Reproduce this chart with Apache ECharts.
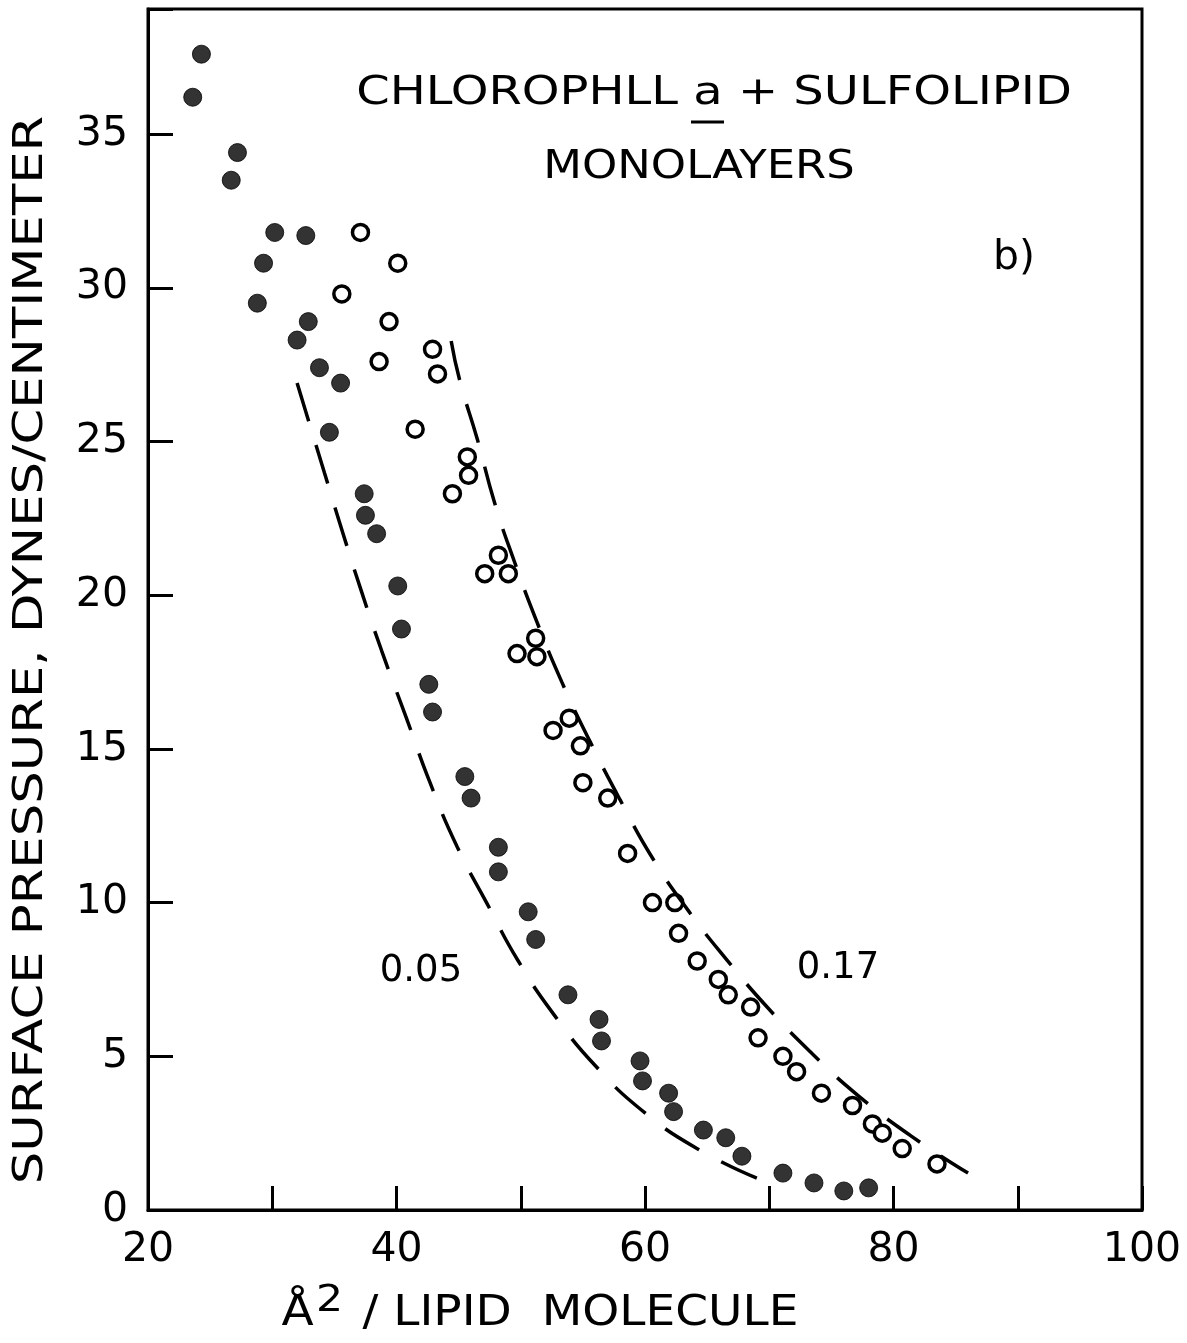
<!DOCTYPE html>
<html>
<head>
<meta charset="utf-8">
<script src="https://cdn.jsdelivr.net/npm/echarts@6/dist/echarts.min.js"></script>
<style>
  html, body { margin: 0; padding: 0; background: #fff; }
  #chart { width: 1187px; height: 1343px; }
</style>
</head>
<body>
<div id="chart"></div>
<script>
// filled circles, 0.05 sulfolipid fraction  [area Å², pressure dyn/cm]
const filled005 = [
  [24.3, 37.6], [23.6, 36.2], [27.2, 34.4], [26.7, 33.5], [30.2, 31.8], [32.7, 31.7],
  [29.3, 30.8], [28.8, 29.5], [32.9, 28.9], [32.0, 28.3], [33.8, 27.4], [35.5, 26.9],
  [34.6, 25.3], [37.4, 23.3], [37.5, 22.6], [38.4, 22.0], [40.1, 20.3], [40.4, 18.9],
  [42.6, 17.1], [42.9, 16.2], [45.5, 14.1], [46.0, 13.4], [48.2, 11.8], [48.2, 11.0],
  [50.6, 9.7], [51.2, 8.8], [53.8, 7.0], [56.3, 6.2], [56.5, 5.5], [59.6, 4.85],
  [59.8, 4.2], [61.9, 3.8], [62.3, 3.2], [64.7, 2.6], [66.5, 2.35], [67.8, 1.75],
  [71.1, 1.2], [73.6, 0.88], [76.0, 0.62], [78.0, 0.72]
]
// open circles, 0.17
const open017 = [
  [37.1, 31.8], [40.1, 30.8], [35.6, 29.8], [39.4, 28.9], [38.6, 27.6], [42.9, 28.0],
  [43.3, 27.2], [41.5, 25.4], [45.7, 24.5], [45.8, 23.9], [44.5, 23.3], [48.2, 21.3],
  [47.1, 20.7], [49.0, 20.7], [51.2, 18.6], [49.7, 18.1], [51.3, 18.0], [52.6, 15.6],
  [53.9, 16.0], [54.8, 15.1], [55.0, 13.9], [57.0, 13.4], [58.6, 11.6], [60.6, 10.0],
  [62.4, 10.0], [62.7, 9.0], [64.2, 8.1], [65.9, 7.5], [66.7, 7.0], [68.5, 6.6],
  [69.1, 5.6], [71.1, 5.0], [72.2, 4.5], [74.2, 3.8], [76.7, 3.4], [78.3, 2.8],
  [79.1, 2.5], [80.7, 2.0], [83.5, 1.5]
]
// dashed curves drawn through the data
const curve005 = [
  [32.0, 26.9], [34.2, 23.98], [35.7, 22.0], [37.2, 20.1], [38.8, 18.2], [40.8, 16.0],
  [42.7, 13.9], [44.9, 11.8], [47.3, 9.96], [49.8, 8.1], [52.7, 6.34], [56.1, 4.65],
  [60.0, 3.16], [64.4, 1.95], [69.0, 1.04]
]
const curve017 = [
  [44.4, 28.27], [45.1, 26.97], [46.5, 25.08], [47.9, 23.0], [49.5, 21.08], [51.3, 19.13],
  [53.3, 17.18], [55.6, 15.22], [58.0, 13.34], [60.6, 11.45], [63.5, 9.73], [66.6, 8.13],
  [69.9, 6.57], [73.4, 5.11], [77.1, 3.74], [81.4, 2.41], [86.0, 1.2]
]
const xTicks = [20, 40, 60, 80, 100]
const yTicks = [0, 5, 10, 15, 20, 25, 30, 35]

const FONT = '"DejaVu Sans", sans-serif'
const chart = echarts.init(document.getElementById('chart'))

const dashed = (data) => ({
  type: 'line', data, smooth: true, symbol: 'none', silent: true,
  lineStyle: { color: '#000', width: 3.5, type: [40, 25] }
})

chart.setOption({
  animation: false,
  backgroundColor: '#fff',
  grid: { left: 148, right: 45, top: 9, bottom: 133, show: true, borderColor: '#000', borderWidth: 3 },
  xAxis: {
    type: 'value', min: 20, max: 100, interval: 10,
    axisLine: { lineStyle: { color: '#000', width: 3 } },
    axisTick: { inside: true, length: 24, lineStyle: { color: '#000', width: 3 } },
    axisLabel: {
      color: '#000', fontFamily: FONT, fontSize: 41, margin: 20,
      formatter: (v) => (xTicks.includes(v) ? String(v) : '')
    },
    splitLine: { show: false }
  },
  yAxis: {
    type: 'value', min: 0, max: 39.07, interval: 5,
    axisLine: { lineStyle: { color: '#000', width: 3 } },
    axisTick: { inside: true, length: 25, lineStyle: { color: '#000', width: 3 } },
    axisLabel: {
      color: '#000', fontFamily: FONT, fontSize: 41, margin: 20,
      formatter: (v) => (yTicks.includes(v) ? String(v) : '')
    },
    splitLine: { show: false }
  },
  series: [
    dashed(curve005),
    dashed(curve017),
    {
      type: 'scatter', data: filled005, symbol: 'circle', symbolSize: 18,
      itemStyle: { color: '#000', borderColor: '#000', borderWidth: 1 }
    },
    {
      type: 'scatter', data: open017, symbol: 'circle', symbolSize: 16,
      itemStyle: { color: '#fff', borderColor: '#000', borderWidth: 3.5, opacity: 1 }
    }
  ],
  graphic: [
    {
      type: 'text', x: 714, y: 94, scaleX: 1.23,
      style: { text: 'CHLOROPHLL a + SULFOLIPID', font: '39px ' + FONT, fill: '#000', align: 'center', verticalAlign: 'middle' }
    },
    { type: 'line', shape: { x1: 691, y1: 122, x2: 724, y2: 122 }, style: { stroke: '#000', lineWidth: 3 } },
    {
      type: 'text', x: 699, y: 168, scaleX: 1.15,
      style: { text: 'MONOLAYERS', font: '39px ' + FONT, fill: '#000', align: 'center', verticalAlign: 'middle' }
    },
    {
      type: 'text', x: 1014, y: 258,
      style: { text: 'b)', font: '41px ' + FONT, fill: '#000', align: 'center', verticalAlign: 'middle' }
    },
    {
      type: 'text', x: 421, y: 971,
      style: { text: '0.05', font: '37px ' + FONT, fill: '#000', align: 'center', verticalAlign: 'middle' }
    },
    {
      type: 'text', x: 838, y: 968,
      style: { text: '0.17', font: '37px ' + FONT, fill: '#000', align: 'center', verticalAlign: 'middle' }
    },
    {
      type: 'text', x: 31, y: 650, rotation: Math.PI / 2, scaleX: 1.25,
      style: { text: 'SURFACE PRESSURE, DYNES/CENTIMETER', font: '41px ' + FONT, fill: '#000', align: 'center', verticalAlign: 'middle' }
    },
    {
      type: 'text', x: 540, y: 1314, scaleX: 1.12,
      style: {
        text: '{t|Å}{s|2}{t| / LIPID  MOLECULE}',
        align: 'center', verticalAlign: 'middle',
        rich: {
          t: { font: '42px ' + FONT, fill: '#000', lineHeight: 50 },
          s: { font: '38px ' + FONT, fill: '#000', lineHeight: 50, padding: [0, 4, 26, 2] }
        }
      }
    }
  ]
})
</script>
</body>
</html>
